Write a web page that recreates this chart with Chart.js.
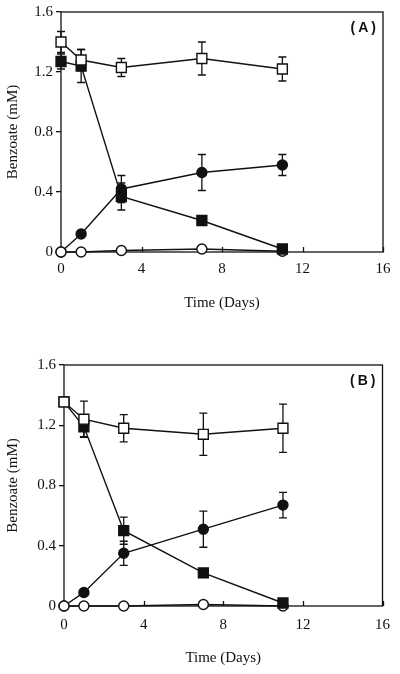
<!DOCTYPE html>
<html>
<head>
<meta charset="utf-8">
<script src="https://cdn.jsdelivr.net/npm/chart.js@4.4.0/dist/chart.umd.min.js"></script>
<style>
  body { margin: 0; background: #fff; }
  canvas { display: block; }
</style>
</head>
<body>
<canvas id="chartA" width="400" height="330"></canvas>
<canvas id="chartB" width="400" height="344"></canvas>
<script>
// sampling times (days)
const days = [0, 1, 3, 7, 11];
const xTicks = [0, 4, 8, 12, 16];
const yTicks = [0, 0.4, 0.8, 1.2, 1.6];

// panel A
const aOpenSquare = [1.40, 1.28, 1.23, 1.29, 1.22];
const aOpenSquareErr = [0.07, 0.07, 0.06, 0.11, 0.08];
const aFilledSquare = [1.27, 1.24, 0.37, 0.21, 0.02];
const aFilledSquareErr = [0.05, 0.11, 0.09, 0, 0];
const aFilledCircle = [0, 0.12, 0.42, 0.53, 0.58];
const aFilledCircleErr = [0, 0, 0.09, 0.12, 0.07];
const aOpenCircle = [0, 0, 0.01, 0.02, 0.005];

// panel B
const bOpenSquare = [1.355, 1.24, 1.18, 1.14, 1.18];
const bOpenSquareErr = [0, 0.12, 0.09, 0.14, 0.16];
const bFilledSquare = [1.355, 1.19, 0.50, 0.22, 0.02];
const bFilledSquareErr = [0, 0.065, 0.09, 0, 0];
const bFilledCircle = [0, 0.09, 0.35, 0.51, 0.67];
const bFilledCircleErr = [0, 0, 0.08, 0.12, 0.085];
const bOpenCircle = [0, 0, 0, 0.01, 0];

const serif = "'Liberation Serif', 'Times New Roman', serif";

function toPoints(vals) {
  return vals.map((v, i) => ({ x: days[i], y: v }));
}

function series(label, vals, errs, style, filled, order) {
  return {
    label: label,
    data: toPoints(vals),
    errors: errs,
    borderColor: '#111',
    borderWidth: 1.4,
    pointStyle: style,
    pointRadius: style === 'rect' ? 7 : 5,
    pointBorderWidth: 1.4,
    pointBorderColor: '#111',
    pointBackgroundColor: filled ? '#111' : '#fff',
    clip: false,
    order: order
  };
}

// error bars (caps), drawn under the markers
const errorBars = {
  id: 'errorBars',
  beforeDatasetsDraw(chart) {
    const ctx = chart.ctx;
    const xs = chart.scales.x, ys = chart.scales.y;
    ctx.save();
    ctx.strokeStyle = '#111';
    ctx.lineWidth = 1.3;
    chart.data.datasets.forEach(ds => {
      if (!ds.errors) return;
      ds.data.forEach((p, i) => {
        const e = ds.errors[i];
        if (!e) return;
        const px = xs.getPixelForValue(p.x);
        const top = ys.getPixelForValue(p.y + e);
        const bot = ys.getPixelForValue(p.y - e);
        ctx.beginPath();
        ctx.moveTo(px, top); ctx.lineTo(px, bot);
        ctx.moveTo(px - 4, top); ctx.lineTo(px + 4, top);
        ctx.moveTo(px - 4, bot); ctx.lineTo(px + 4, bot);
        ctx.stroke();
      });
    });
    ctx.restore();
  }
};

// box around plot, inward x ticks and panel letter
const frame = {
  id: 'frame',
  beforeDatasetsDraw(chart, args, opts) {
    const { ctx, chartArea: a } = chart;
    const xs = chart.scales.x;
    ctx.save();
    ctx.strokeStyle = '#111';
    ctx.lineWidth = 1.3;
    ctx.strokeRect(a.left, a.top, a.right - a.left, a.bottom - a.top);
    ctx.beginPath();
    xTicks.forEach(t => {
      const px = Math.round(xs.getPixelForValue(t)) + 0.5;
      ctx.moveTo(px, a.bottom);
      ctx.lineTo(px, a.bottom - 5);
    });
    ctx.stroke();
    ctx.fillStyle = '#111';
    ctx.font = "bold 14px 'Liberation Sans', Arial, sans-serif";
    ctx.letterSpacing = '3px';
    ctx.textAlign = 'right';
    ctx.textBaseline = 'middle';
    ctx.fillText(opts.letter, a.right - 4, a.top + 16);
    ctx.restore();
  }
};

function makeChart(id, letter, d, box) {
  return new Chart(document.getElementById(id), {
    type: 'line',
    data: {
      datasets: [
        series('Open squares', d.openSq, d.openSqErr, 'rect', false, 0),
        series('Filled squares', d.filledSq, d.filledSqErr, 'rect', true, 1),
        series('Filled circles', d.filledCi, d.filledCiErr, 'circle', true, 3),
        series('Open circles', d.openCi, null, 'circle', false, 2)
      ]
    },
    options: {
      responsive: false,
      animation: false,
      layout: { padding: { left: 0, top: box.top, right: box.right, bottom: 0 } },
      plugins: {
        legend: { display: false },
        tooltip: { enabled: false },
        frame: { letter: letter }
      },
      scales: {
        x: {
          type: 'linear',
          min: 0, max: 16,
          afterBuildTicks: s => { s.ticks = xTicks.map(v => ({ value: v })); },
          afterFit: s => { s.height = box.xHeight; },
          grid: { display: false, drawTicks: false },
          border: { display: false },
          ticks: { color: '#111', padding: box.xPad, maxRotation: 0, font: { family: serif, size: 15 } },
          title: {
            display: true, text: 'Time (Days)', color: '#111',
            font: { family: serif, size: 15 }, padding: { top: 0, bottom: box.titlePad }
          }
        },
        y: {
          min: 0, max: 1.6,
          afterBuildTicks: s => { s.ticks = yTicks.map(v => ({ value: v })); },
          afterFit: s => { s.width = box.left; },
          grid: { drawOnChartArea: false, tickLength: 5, color: '#111', lineWidth: 1.3 },
          border: { display: false },
          ticks: {
            color: '#111', padding: 3, font: { family: serif, size: 15 },
            callback: v => v === 0 ? '0' : v.toFixed(1)
          },
          title: {
            display: true, text: 'Benzoate (mM)', color: '#111',
            font: { family: serif, size: 15 }, padding: { top: 4, bottom: 0 }
          }
        }
      }
    },
    plugins: [frame, errorBars]
  });
}

makeChart('chartA', '(A)', {
  openSq: aOpenSquare, openSqErr: aOpenSquareErr,
  filledSq: aFilledSquare, filledSqErr: aFilledSquareErr,
  filledCi: aFilledCircle, filledCiErr: aFilledCircleErr,
  openCi: aOpenCircle
}, { top: 12, right: 17, left: 61, xHeight: 78, xPad: 8, titlePad: 18 });

makeChart('chartB', '(B)', {
  openSq: bOpenSquare, openSqErr: bOpenSquareErr,
  filledSq: bFilledSquare, filledSqErr: bFilledSquareErr,
  filledCi: bFilledCircle, filledCiErr: bFilledCircleErr,
  openCi: bOpenCircle
}, { top: 35, right: 14, left: 64, xHeight: 68, xPad: 10, titlePad: 7 });
</script>
</body>
</html>
